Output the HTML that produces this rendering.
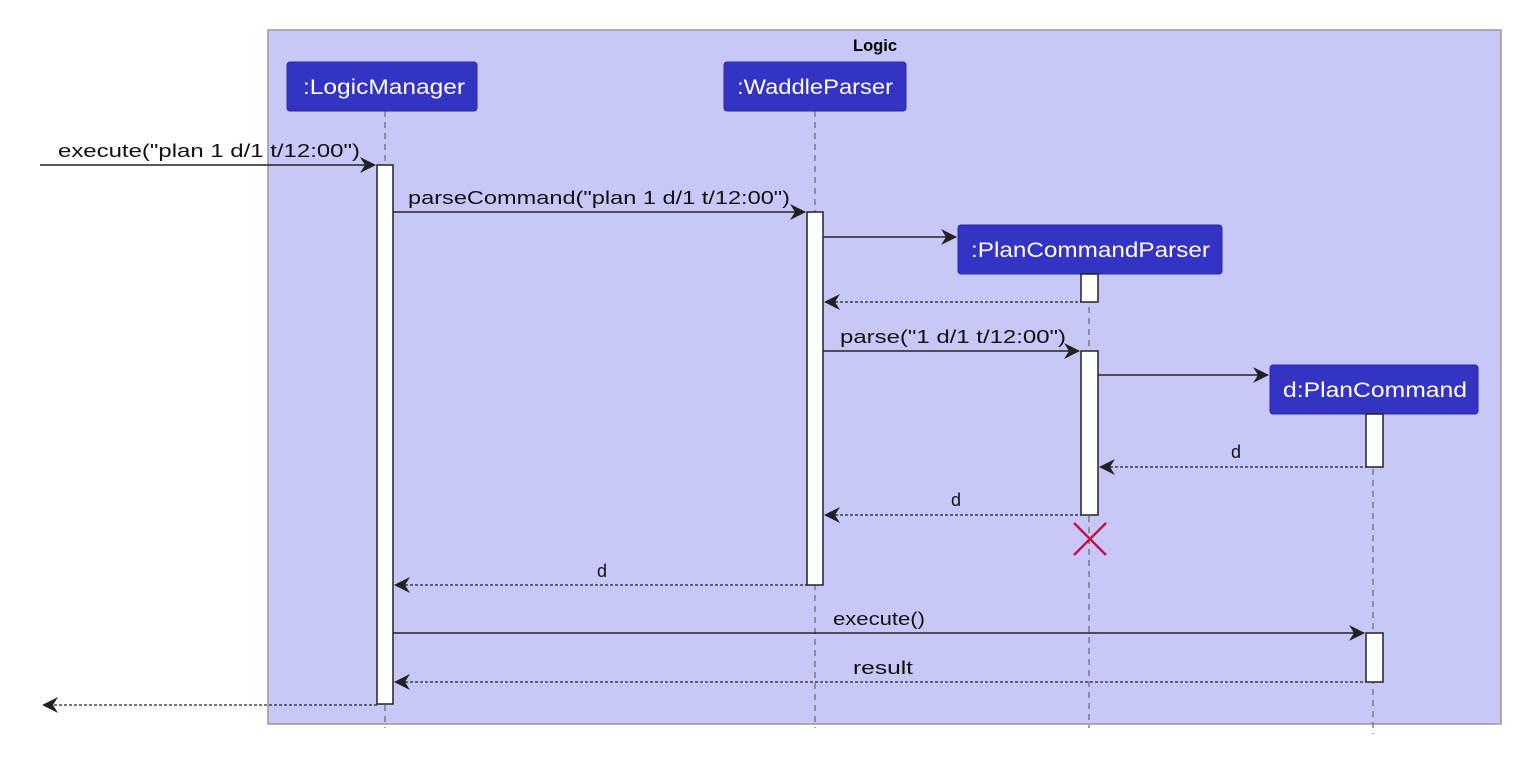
<!DOCTYPE html>
<html><head><meta charset="utf-8"><style>
html,body{margin:0;padding:0;background:#fff;}
svg{display:block;}
text{font-family:"Liberation Sans","DejaVu Sans",sans-serif;}
</style></head><body>
<svg width="1524" height="758" viewBox="0 0 1524 758" xmlns="http://www.w3.org/2000/svg">
<rect x="268" y="30" width="1233" height="694" fill="#c8c8f8" stroke="#999" stroke-width="1.5"/>
<text x="853" y="51" font-size="17" font-weight="bold" fill="#000" textLength="44" lengthAdjust="spacingAndGlyphs">Logic</text>
<g stroke="#666" stroke-width="1.2" stroke-dasharray="6,5">
<line x1="385" y1="111" x2="385" y2="728"/>
<line x1="815" y1="111" x2="815" y2="728"/>
<line x1="1089" y1="274" x2="1089" y2="728"/>
<line x1="1373" y1="414" x2="1373" y2="734"/>
</g>
<g fill="#3333c4" stroke="#2a2aa0" stroke-width="1">
<rect x="287" y="62" width="190" height="49" rx="3"/>
<rect x="724" y="62" width="182" height="49" rx="3"/>
<rect x="958" y="225" width="264" height="49" rx="3"/>
<rect x="1270" y="365" width="208" height="49" rx="3"/>
</g>
<g fill="#fff" font-size="21">
<text x="303" y="94" textLength="162" lengthAdjust="spacingAndGlyphs">:LogicManager</text>
<text x="737" y="94" textLength="156" lengthAdjust="spacingAndGlyphs">:WaddleParser</text>
<text x="971" y="257" textLength="239" lengthAdjust="spacingAndGlyphs">:PlanCommandParser</text>
<text x="1283" y="397" textLength="184" lengthAdjust="spacingAndGlyphs">d:PlanCommand</text>
</g>
<g fill="#fff" stroke="#222" stroke-width="1.5">
<rect x="377" y="165" width="16" height="539"/>
<rect x="807" y="212" width="16" height="373"/>
<rect x="1081" y="274" width="17" height="28"/>
<rect x="1081" y="351" width="17" height="164"/>
<rect x="1366" y="414" width="17" height="53"/>
<rect x="1366" y="633" width="17" height="49"/>
</g>
<g stroke="#222" stroke-width="1.5" fill="none">
<line x1="40" y1="165" x2="375" y2="165"/>
<line x1="393" y1="212" x2="805" y2="212"/>
<line x1="823" y1="237" x2="956" y2="237"/>
<line x1="823" y1="351" x2="1079" y2="351"/>
<line x1="1098" y1="375" x2="1268" y2="375"/>
<line x1="393" y1="633" x2="1364" y2="633"/>
</g>
<g stroke="#222" stroke-width="1.3" stroke-dasharray="3,2" fill="none">
<line x1="825" y1="302" x2="1081" y2="302"/>
<line x1="1100" y1="467" x2="1366" y2="467"/>
<line x1="825" y1="515" x2="1081" y2="515"/>
<line x1="395" y1="585" x2="807" y2="585"/>
<line x1="395" y1="682" x2="1366" y2="682"/>
<line x1="44" y1="705" x2="377" y2="705"/>
</g>
<g fill="#222">
<path d="M376 165 l-16 -8 l5 8 l-5 8z"/>
<path d="M806 212 l-16 -8 l5 8 l-5 8z"/>
<path d="M957 237 l-16 -8 l5 8 l-5 8z"/>
<path d="M1080 351 l-16 -8 l5 8 l-5 8z"/>
<path d="M1269 375 l-16 -8 l5 8 l-5 8z"/>
<path d="M1365 633 l-16 -8 l5 8 l-5 8z"/>
<path d="M824 302 l16 -8 l-5 8 l5 8z"/>
<path d="M1099 467 l16 -8 l-5 8 l5 8z"/>
<path d="M824 515 l16 -8 l-5 8 l5 8z"/>
<path d="M394 585 l16 -8 l-5 8 l5 8z"/>
<path d="M394 682 l16 -8 l-5 8 l5 8z"/>
<path d="M42 705 l16 -8 l-5 8 l5 8z"/>
</g>
<g stroke="#c0134a" stroke-width="2.5">
<line x1="1074" y1="523" x2="1106" y2="555"/>
<line x1="1106" y1="523" x2="1074" y2="555"/>
</g>
<g fill="#111" font-size="18">
<text x="58" y="157" textLength="302" lengthAdjust="spacingAndGlyphs">execute("plan 1 d/1 t/12:00")</text>
<text x="408" y="204" textLength="382" lengthAdjust="spacingAndGlyphs">parseCommand("plan 1 d/1 t/12:00")</text>
<text x="840" y="343" textLength="226" lengthAdjust="spacingAndGlyphs">parse("1 d/1 t/12:00")</text>
<text x="1231" y="458">d</text>
<text x="951" y="506">d</text>
<text x="597" y="577">d</text>
<text x="833" y="625" textLength="92" lengthAdjust="spacingAndGlyphs">execute()</text>
<text x="853" y="674" textLength="60" lengthAdjust="spacingAndGlyphs">result</text>
</g>
</svg>
</body></html>
